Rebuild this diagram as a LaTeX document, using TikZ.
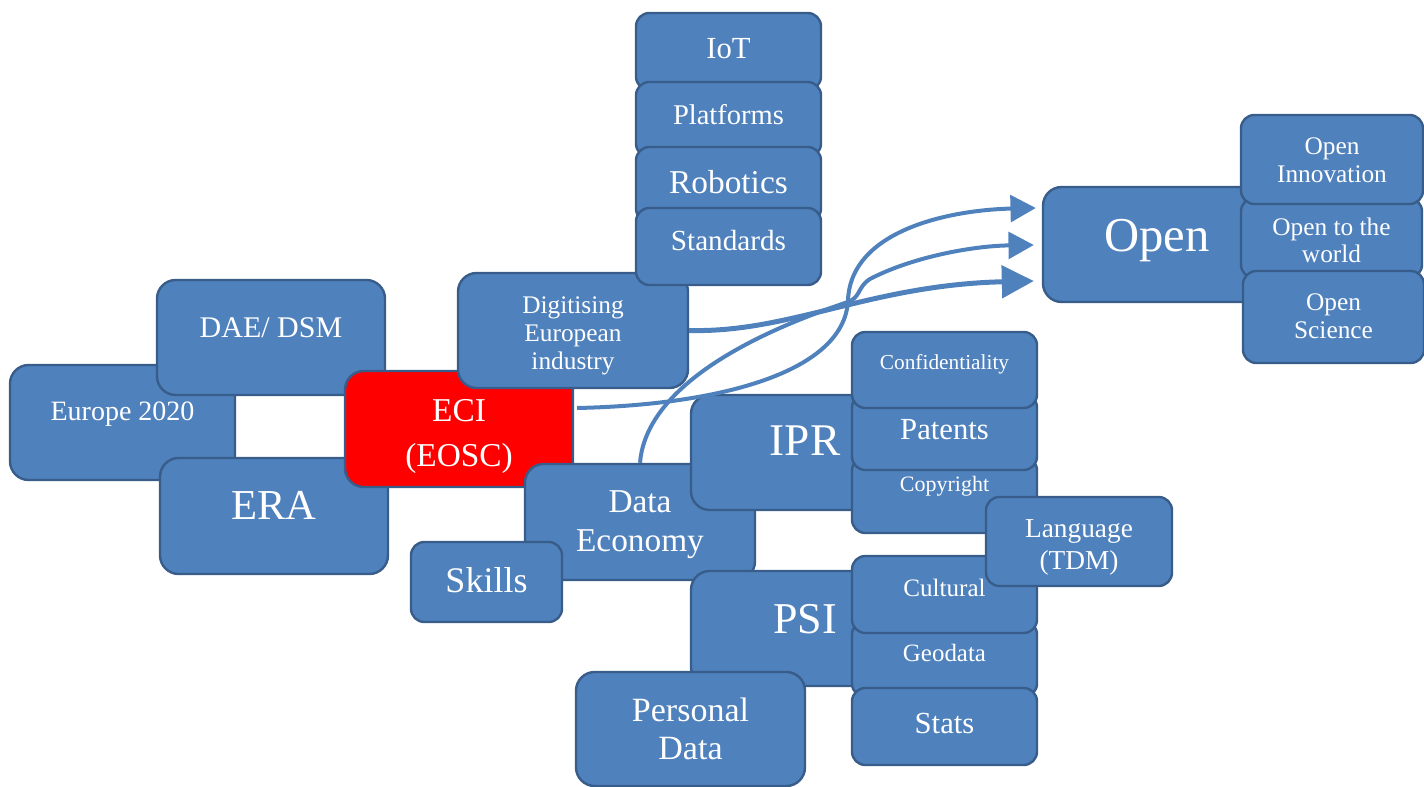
\documentclass[tikz,border=0pt]{standalone}
\usepackage{fontspec}
\setmainfont{Liberation Serif}
\usetikzlibrary{arrows.meta,calc}
\definecolor{blu}{HTML}{4F81BD}
\definecolor{bdr}{HTML}{385D8A}
\newlength\px \setlength\px{0.75pt}
\newcommand\fz[2]{\fontsize{#1}{#2}\selectfont}
\tikzset{
  bx/.style={draw=bdr, fill=blu, line width=1.8pt, rounded corners=14pt, inner sep=0pt},
  sb/.style={bx, rounded corners=10pt},
  tx/.style={text=white, align=center, inner sep=0pt},
  arr/.style={draw=blu, line width=3pt, -{Triangle[length=19pt,width=20pt]}},
  arrb/.style={draw=blu, line width=3.75pt, -{Triangle[length=24pt,width=24pt]}}
}
\begin{document}
\begin{tikzpicture}[x=0.75pt,y=-0.75pt]
\useasboundingbox (0,0) rectangle (1424,787);
% left cluster
\node[bx, minimum width=225\px, minimum height=115\px, label={[tx,font=\fz{21}{25},yshift=6pt]center:Europe 2020}] (eur) at (122.5,422.5) {};
\node[bx, minimum width=228\px, minimum height=115\px, label={[tx,font=\fz{22.5}{26},yshift=7.5pt]center:DAE/ DSM}] (dae) at (271,337.5) {};
\node[bx, minimum width=228\px, minimum height=116\px, label={[tx,font=\fz{32}{36},yshift=8pt]center:ERA}] (era) at (274,516) {};
\node[bx, fill=red, minimum width=228\px, minimum height=116\px, label={[tx,font=\fz{25}{34},yshift=-5.5pt]center:{ECI\\(EOSC)}}] (eci) at (459,429) {};
\node[bx, minimum width=230\px, minimum height=115\px, label={[tx,font=\fz{19}{21},yshift=-4pt]center:{Digitising\\European\\industry}}] (dig) at (573,330.5) {};
% top column
\node[sb, minimum width=185\px, minimum height=77\px, label={[tx,font=\fz{23}{26},yshift=2pt]center:IoT}] (iot) at (728.5,51.5) {};
\node[sb, minimum width=185\px, minimum height=75\px, label={[tx,font=\fz{21.4}{24},yshift=4pt]center:Platforms}] (plat) at (728.5,119.5) {};
\node[sb, minimum width=185\px, minimum height=75\px, label={[tx,font=\fz{25}{28},yshift=2pt]center:Robotics}] (rob) at (728.5,184.5) {};
\node[sb, minimum width=185\px, minimum height=77\px, label={[tx,font=\fz{21.9}{25},yshift=4.5pt]center:Standards}] (std) at (728.5,246.5) {};
% data economy cluster
\node[bx, minimum width=230\px, minimum height=116\px, label={[tx,font=\fz{25}{29},yshift=-2pt]center:{Data\\Economy}}] (de) at (640,522) {};
\node[sb, minimum width=151\px, minimum height=80\px, label={[tx,font=\fz{27}{30},yshift=1.5pt]center:Skills}] (sk) at (486.5,582) {};
\node[bx, minimum width=228\px, minimum height=115\px, label={[tx,font=\fz{34}{38},yshift=9pt]center:IPR}] (ipr) at (805,452.5) {};
\node[sb, minimum width=185\px, minimum height=76\px, label={[tx,font=\fz{16.5}{19},yshift=6.5pt]center:Copyright}] (copy) at (944.5,495) {};
\node[sb, minimum width=185\px, minimum height=76\px, label={[tx,font=\fz{23}{26},yshift=1.5pt]center:Patents}] (pat) at (944.5,432) {};
\node[sb, minimum width=185\px, minimum height=76\px, label={[tx,font=\fz{16}{19},yshift=4.5pt]center:Confidentiality}] (conf) at (944.5,370) {};
\node[bx, minimum width=228\px, minimum height=115\px, label={[tx,font=\fz{33}{37},yshift=7pt]center:PSI}] (psi) at (805,628.5) {};
\node[sb, minimum width=185\px, minimum height=76\px, label={[tx,font=\fz{18.7}{21},yshift=4.5pt]center:Geodata}] (geo) at (944.5,659) {};
\node[sb, minimum width=185\px, minimum height=77\px, label={[tx,font=\fz{18.8}{21},yshift=5pt]center:Cultural}] (cult) at (944.5,594.5) {};
\node[sb, minimum width=185\px, minimum height=77\px, label={[tx,font=\fz{23}{26},yshift=2.5pt]center:Stats}] (stat) at (944.5,726.5) {};
\node[sb, minimum width=186\px, minimum height=89\px, label={[tx,font=\fz{20.5}{24},yshift=-4.5pt]center:{Language\\(TDM)}}] (lang) at (1079,541.5) {};
\node[bx, minimum width=229\px, minimum height=114\px, label={[tx,font=\fz{25.5}{28.5}]center:{Personal\\Data}}] (pd) at (690.5,729) {};
% open cluster
\node[bx, minimum width=228\px, minimum height=115\px, label={[tx,font=\fz{36.5}{40},yshift=3pt]center:Open}] (open) at (1157,244.5) {};
\node[sb, minimum width=181\px, minimum height=80\px, label={[tx,font=\fz{19}{20.5},yshift=-2pt]center:{Open to the\\world}}] (otw) at (1331.5,238) {};
\node[sb, minimum width=182\px, minimum height=89\px, label={[tx,font=\fz{19}{20.5},yshift=-0.5pt]center:{Open\\Innovation}}] (oi) at (1332,159.5) {};
\node[sb, minimum width=181\px, minimum height=92\px, label={[tx,font=\fz{19}{20.5},yshift=0.5pt]center:{Open\\Science}}] (os) at (1333.5,317) {};
% arrows
\draw[arr] ($(eci.east)+(3,-21)$) .. controls (720,405) and (845,372) .. (848,300) .. controls (851,230) and (950,210) .. ($(open.west)+(-6,-36.5)$);
\draw[arr] (de.north) .. controls (645,400) and (720,345) .. (845,303) .. controls (862,298) and (856,288) .. (870,279) .. controls (910,258) and (970,246) .. ($(open.west)+(-8,0.5)$);
\draw[arrb] (dig.east) .. controls (790,333) and (870,285) .. ($(open.west)+(-8,36.5)$);
\end{tikzpicture}
\end{document}
